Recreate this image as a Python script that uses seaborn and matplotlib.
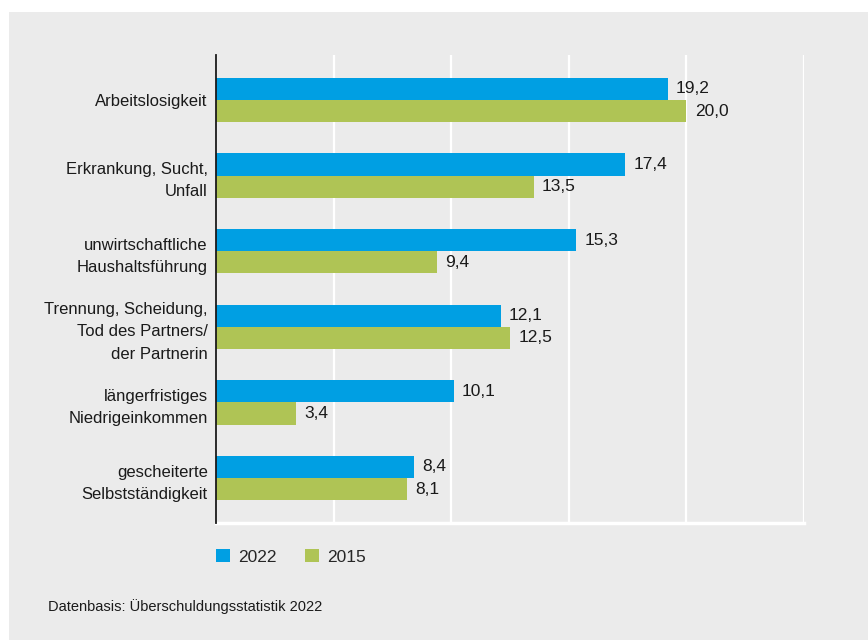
import matplotlib
matplotlib.use("Agg")
import matplotlib.pyplot as plt
import seaborn as sns
import pandas as pd
from matplotlib.patches import Rectangle, Patch

categories = [
    "Arbeitslosigkeit",
    "Erkrankung, Sucht,\nUnfall",
    "unwirtschaftliche\nHaushaltsführung",
    "Trennung, Scheidung,\nTod des Partners/\nder Partnerin",
    "längerfristiges\nNiedrigeinkommen",
    "gescheiterte\nSelbstständigkeit",
]
values_2022 = [19.2, 17.4, 15.3, 12.1, 10.1, 8.4]
values_2015 = [20.0, 13.5, 9.4, 12.5, 3.4, 8.1]
series = ["2022", "2015"]
colors = ["#009fe3", "#afc455"]
x_ticks = [0, 5, 10, 15, 20, 25]
source = "Datenbasis: Überschuldungsstatistik 2022"

df = pd.DataFrame({
    "Kategorie": categories * 2,
    "Wert": values_2022 + values_2015,
    "Jahr": [series[0]] * len(categories) + [series[1]] * len(categories),
})

sns.set_theme(style="white")
plt.rcParams["font.family"] = ["Liberation Sans", "DejaVu Sans"]

W, H = 868, 640
fig = plt.figure(figsize=(W / 100, H / 100), dpi=100, facecolor="white")
bg = "#ebebeb"
fig.patches.append(Rectangle((9 / W, 0), 1 - 9 / W, 1 - 12 / H, transform=fig.transFigure,
                             facecolor=bg, edgecolor="none", zorder=-10))

ax = fig.add_axes([216 / W, 1 - 523 / H, (804 - 216) / W, (523 - 55) / H])
ax.set_facecolor(bg)

sns.barplot(data=df, y="Kategorie", x="Wert", hue="Jahr", hue_order=series,
            palette=colors, width=0.585, ax=ax, legend=False, saturation=1,
            edgecolor="none", linewidth=0)

ax.set_xlim(x_ticks[0], x_ticks[-1])
ax.set_ylim(5.595, -0.595)
ax.set_xticks(x_ticks)
ax.set_xticklabels([])
ax.tick_params(axis="both", length=0)
ax.tick_params(axis="y", labelsize=12, pad=6, colors="#1a1a1a")
for lab in ax.get_yticklabels():
    lab.set_horizontalalignment("right")
    lab.set_multialignment("right")
    lab.set_linespacing(1.6)
ax.set_xlabel("")
ax.set_ylabel("")
ax.xaxis.grid(True, color="white", linewidth=1.6)
ax.set_axisbelow(True)
for s in ["top", "right"]:
    ax.spines[s].set_visible(False)
ax.spines["bottom"].set_color("white")
ax.spines["bottom"].set_linewidth(2.5)
ax.spines["left"].set_color("#1a1a1a")
ax.spines["left"].set_linewidth(1.3)
ax.spines["left"].set_zorder(5)

for cont in ax.containers:
    labels = [f"{v:.1f}".replace(".", ",") for v in cont.datavalues]
    ax.bar_label(cont, labels=labels, padding=6, fontsize=12.5, color="#1a1a1a")

handles = [Patch(facecolor=c, edgecolor="none") for c in colors]
fig.legend(handles, series, loc="center left", bbox_to_anchor=(216 / W, 1 - 557 / H),
           ncol=2, frameon=False, fontsize=12.5, handlelength=0.8, handleheight=0.8,
           handletextpad=0.5, columnspacing=1.6, borderaxespad=0, borderpad=0)

fig.text(48 / W, 1 - 607 / H, source, fontsize=10.5, color="#1a1a1a", va="center", ha="left")

fig.savefig("out.png", dpi=100, facecolor="white")
